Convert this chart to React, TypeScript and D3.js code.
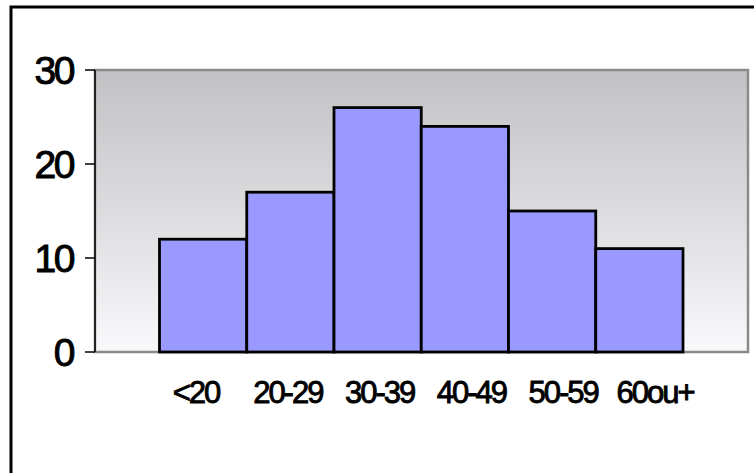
import React from "react";
import * as d3 from "d3";

// Age groups and their counts
const categories: string[] = ["<20", "20-29", "30-39", "40-49", "50-59", "60ou+"];
const counts: number[] = [12, 17, 26, 24, 15, 11];
const yTicks: number[] = [0, 10, 20, 30];

const W = 754;
const H = 473;
const plot = { left: 95, right: 748, top: 70, bottom: 352 };
const FONT = "'Liberation Sans', Arial, Helvetica, sans-serif";

export default function App() {
  const y = d3.scaleLinear().domain([0, 30]).range([plot.bottom, plot.top]);
  const x = d3.scaleBand<string>().domain(categories).range([159.5, 683]).padding(0);
  const labelX = d3.scalePoint<string>().domain(categories).range([196, 655]);

  return (
    <svg
      width={W}
      height={H}
      style={{ position: "absolute", left: 0, top: 0, background: "#ffffff" }}
    >
      <defs>
        <linearGradient id="plotBg" x1="0" y1="0" x2="0" y2="1">
          <stop offset="0%" stopColor="#c2c1c3" />
          <stop offset="50%" stopColor="#dcdbdd" />
          <stop offset="100%" stopColor="#f9f8fa" />
        </linearGradient>
      </defs>

      {/* frame: only top and left edges fall inside the view */}
      <rect x={11} y={7} width={W + 20} height={H + 20} fill="none" stroke="#000" strokeWidth={3} />

      {/* plot area */}
      <rect
        x={plot.left}
        y={plot.top}
        width={plot.right - plot.left}
        height={plot.bottom - plot.top}
        fill="url(#plotBg)"
        stroke="#8a8a8a"
        strokeWidth={2.5}
      />

      {/* bars */}
      {categories.map((c, i) => (
        <rect
          key={c}
          x={x(c)}
          y={y(counts[i])}
          width={x.bandwidth()}
          height={y(0) - y(counts[i])}
          fill="#9999ff"
          stroke="#000"
          strokeWidth={2.8}
        />
      ))}

      {/* y axis */}
      <line x1={plot.left} x2={plot.left} y1={plot.top} y2={plot.bottom} stroke="#000" strokeWidth={1.5} />
      {yTicks.map((t) => (
        <g key={t}>
          <line x1={plot.left - 10} x2={plot.left} y1={y(t)} y2={y(t)} stroke="#000" strokeWidth={1.5} />
          <text
            x={73}
            y={y(t)}
            dy="0.36em"
            textAnchor="end"
            fontFamily={FONT}
            fontSize={39}
            letterSpacing={-2.5}
            fill="#000"
            stroke="#000"
            strokeWidth={1}
          >
            {t}
          </text>
        </g>
      ))}

      {/* category labels */}
      {categories.map((c) => (
        <text
          key={c}
          x={labelX(c)}
          y={403}
          textAnchor="middle"
          fontFamily={FONT}
          fontSize={31}
          letterSpacing={-2}
          fill="#000"
          stroke="#000"
          strokeWidth={0.9}
        >
          {c}
        </text>
      ))}
    </svg>
  );
}
